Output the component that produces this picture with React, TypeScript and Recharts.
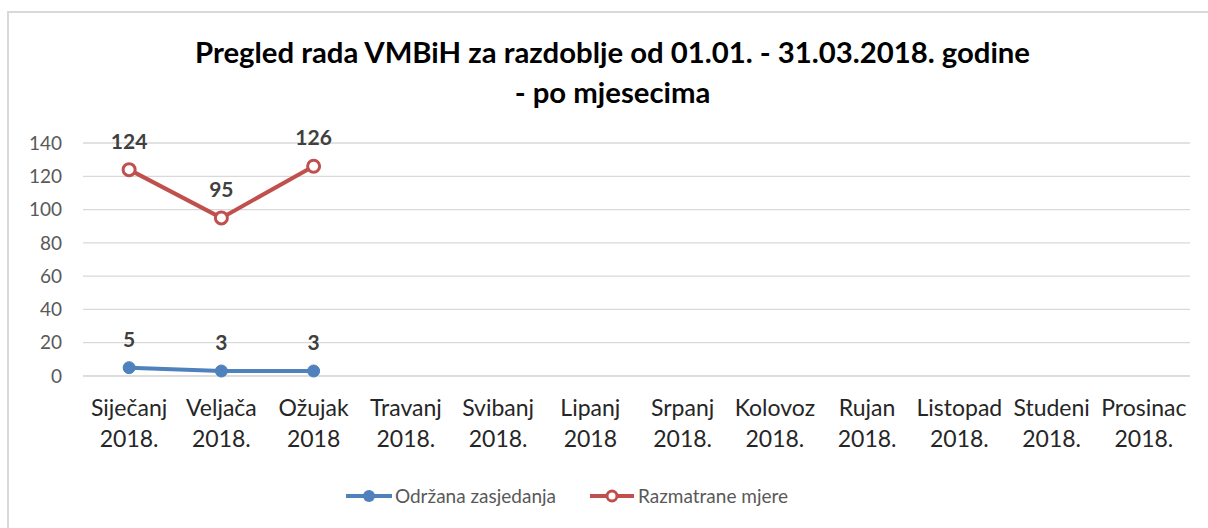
import React from "react";
import { LineChart, Line, XAxis, YAxis, CartesianGrid, LabelList } from "recharts";

const MONTHS = ["Siječanj", "Veljača", "Ožujak", "Travanj", "Svibanj", "Lipanj", "Srpanj", "Kolovoz", "Rujan", "Listopad", "Studeni", "Prosinac"];
const YEARS = ["2018.", "2018.", "2018", "2018.", "2018.", "2018", "2018.", "2018.", "2018.", "2018.", "2018.", "2018."];
const ZASJEDANJA = [5, 3, 3, null, null, null, null, null, null, null, null, null];
const MJERE = [124, 95, 126, null, null, null, null, null, null, null, null, null];
const Y_TICKS = [0, 20, 40, 60, 80, 100, 120, 140];

const data = MONTHS.map((m, i) => ({ cat: m, year: YEARS[i], zasjedanja: ZASJEDANJA[i], mjere: MJERE[i] }));

const BLUE = "#4f81bd";
const RED = "#c0504d";
const FONT = "Lato, 'Open Sans', sans-serif";

const CatTick = ({ x, y, payload, index }: any) => (
  <text x={x} y={y} textAnchor="middle" fill="#262626" fontSize={23} fontFamily={FONT}>
    <tspan x={x} dy={32}>{payload.value}</tspan>
    <tspan x={x} dy={31}>{YEARS[index]}</tspan>
  </text>
);

const LegendBox = () => (
  <div style={{ position: "absolute", left: 0, top: 484, display: "flex", justifyContent: "center", gap: 34, fontFamily: FONT, fontSize: 19, color: "#595959", width: 1208, paddingRight: 74, boxSizing: "border-box" }}>
    <div style={{ display: "flex", alignItems: "center" }}>
      <svg width={46} height={14}><line x1={0} y1={7} x2={46} y2={7} stroke={BLUE} strokeWidth={4} /><circle cx={23} cy={7} r={6} fill={BLUE} /></svg>
      <span style={{ marginLeft: 3 }}>Održana zasjedanja</span>
    </div>
    <div style={{ display: "flex", alignItems: "center" }}>
      <svg width={44} height={14}><line x1={0} y1={7} x2={44} y2={7} stroke={RED} strokeWidth={4} /><circle cx={22} cy={7} r={5} fill="#fff" stroke={RED} strokeWidth={3} /></svg>
      <span style={{ marginLeft: 4 }}>Razmatrane mjere</span>
    </div>
  </div>
);

export default function App() {
  return (
    <div style={{ position: "relative", width: 1208, height: 528, background: "#fff" }}>
      <style>{"body{margin:0;overflow:hidden;background:#fff}"}</style>
      <div style={{ position: "absolute", left: 7, top: 11, width: 1220, height: 540, border: "2px solid #d9d9d9", boxSizing: "border-box" }} />
      <div style={{ position: "absolute", left: 0, top: 32, width: 1225, textAlign: "center", fontFamily: FONT, fontWeight: 700, fontSize: 29.3, lineHeight: "40px", color: "#000" }}>
        Pregled rada VMBiH za razdoblje od 01.01. - 31.03.2018. godine
        <br />- po mjesecima
      </div>
      <div style={{ position: "absolute", left: 0, top: 0 }}>
        <LineChart width={1208} height={528} data={data} margin={{ top: 143, right: 18, bottom: 62, left: 0 }}>
          <CartesianGrid vertical={false} stroke="#d9d9d9" strokeWidth={1.3} />
          <XAxis dataKey="cat" scale="band" interval={0} axisLine={{ stroke: "#d9d9d9" }} tickLine={false} tick={<CatTick />} height={90} />
          <YAxis domain={[0, 140]} ticks={Y_TICKS} interval={0} width={83} axisLine={false} tickLine={false} tickSize={0} tickMargin={21}
            tick={{ fill: "#595959", fontSize: 19, fontFamily: FONT }} />
          <Line dataKey="zasjedanja" name="Održana zasjedanja" stroke={BLUE} strokeWidth={4} isAnimationActive={false}
            dot={{ r: 6, fill: BLUE, stroke: BLUE, strokeWidth: 1 }} activeDot={false}>
            <LabelList dataKey="zasjedanja" position="top" offset={21} fill="#404040" fontSize={21} fontWeight={700} fontFamily={FONT} />
          </Line>
          <Line dataKey="mjere" name="Razmatrane mjere" stroke={RED} strokeWidth={4} isAnimationActive={false}
            dot={{ r: 6, fill: "#fff", stroke: RED, strokeWidth: 3 }} activeDot={false}>
            <LabelList dataKey="mjere" position="top" offset={21} fill="#404040" fontSize={21} fontWeight={700} fontFamily={FONT} />
          </Line>
        </LineChart>
      </div>
      <LegendBox />
    </div>
  );
}
